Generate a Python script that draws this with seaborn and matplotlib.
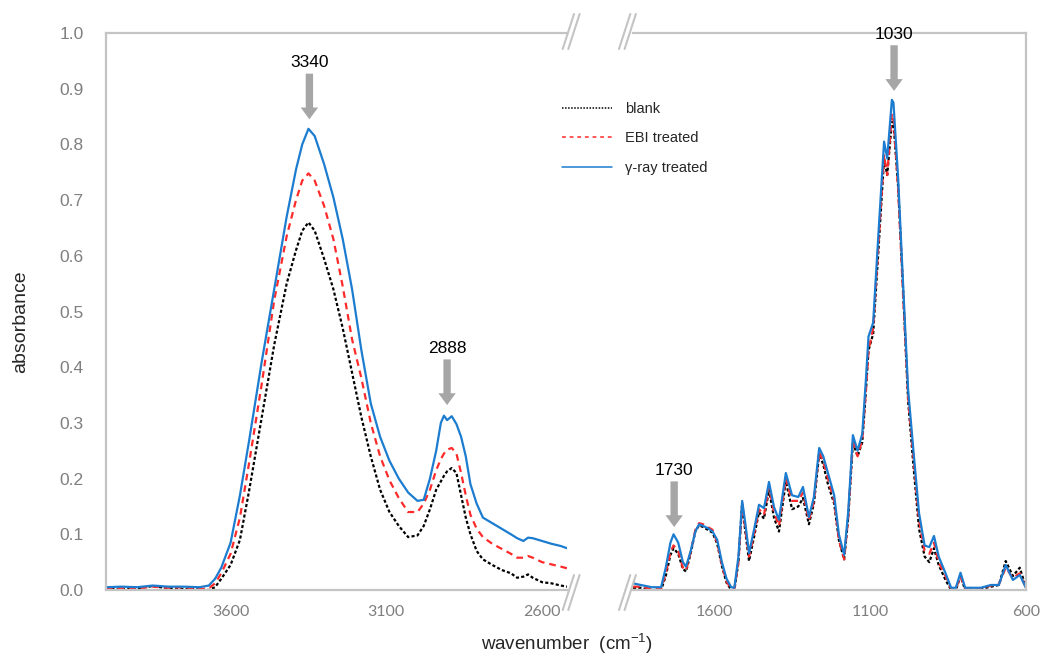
import matplotlib
matplotlib.use("Agg")
import matplotlib.pyplot as plt
import numpy as np
import pandas as pd
import seaborn as sns
from matplotlib.lines import Line2D

# --- data (wavenumber in cm-1, absorbance) ---
wn_high = [4000, 3950, 3900, 3850, 3800, 3750, 3700, 3670, 3650, 3630, 3600, 3570,
           3540, 3500, 3460, 3420, 3390, 3370, 3350, 3330, 3300, 3270, 3240, 3210,
           3180, 3150, 3120, 3090, 3060, 3030, 3000, 2980, 2960, 2940, 2925, 2915,
           2905, 2890, 2875, 2860, 2845, 2830, 2810, 2790, 2760, 2730, 2700, 2680,
           2660, 2645, 2630, 2600, 2570, 2540, 2520]
blank_high = [0.002, 0.001, 0.003, 0.007, 0.003, 0.002, 0.001, 0.000, 0.005, 0.020, 0.045, 0.090,
              0.180, 0.310, 0.440, 0.550, 0.610, 0.645, 0.660, 0.645, 0.595, 0.540, 0.470, 0.390,
              0.310, 0.240, 0.180, 0.140, 0.115, 0.095, 0.098, 0.115, 0.145, 0.180, 0.195, 0.205,
              0.213, 0.219, 0.210, 0.170, 0.130, 0.100, 0.070, 0.055, 0.045, 0.036, 0.030, 0.022,
              0.024, 0.028, 0.022, 0.014, 0.012, 0.008, 0.006]
ebi_high = [0.003, 0.004, 0.003, 0.006, 0.004, 0.005, 0.002, 0.003, 0.012, 0.030, 0.065, 0.130,
            0.230, 0.370, 0.520, 0.635, 0.700, 0.735, 0.748, 0.735, 0.690, 0.630, 0.545, 0.450,
            0.380, 0.300, 0.240, 0.197, 0.165, 0.140, 0.140, 0.155, 0.180, 0.215, 0.235, 0.245,
            0.252, 0.255, 0.245, 0.210, 0.170, 0.135, 0.110, 0.095, 0.083, 0.074, 0.065, 0.058,
            0.058, 0.061, 0.058, 0.050, 0.046, 0.042, 0.039]
gamma_high = [0.005, 0.006, 0.005, 0.008, 0.006, 0.006, 0.005, 0.008, 0.020, 0.040, 0.085, 0.170,
              0.270, 0.410, 0.540, 0.670, 0.755, 0.800, 0.828, 0.815, 0.765, 0.705, 0.630, 0.540,
              0.430, 0.335, 0.275, 0.232, 0.200, 0.175, 0.160, 0.162, 0.200, 0.250, 0.300, 0.313,
              0.305, 0.312, 0.298, 0.275, 0.240, 0.190, 0.155, 0.130, 0.120, 0.110, 0.100, 0.093,
              0.088, 0.094, 0.093, 0.088, 0.083, 0.079, 0.075]

wn_low = [1860, 1835, 1800, 1770, 1755, 1740, 1730, 1715, 1700, 1690, 1675, 1660, 1648, 1635,
          1620, 1605, 1590, 1575, 1560, 1545, 1535, 1522, 1510, 1500, 1488, 1472, 1456, 1440,
          1424, 1408, 1392, 1370, 1350, 1330, 1315, 1296, 1280, 1263, 1250, 1235, 1215, 1200,
          1183, 1170, 1155, 1140, 1125, 1113, 1105, 1090, 1072, 1055, 1045, 1030, 1025, 1010,
          995, 978, 962, 943, 925, 910, 895, 880, 858, 840, 825, 810, 795, 745, 712, 687,
          665, 642, 620, 600]
blank_low = [0.004, 0.004, 0.000, 0.000, 0.025, 0.063, 0.075, 0.065, 0.038, 0.033, 0.066, 0.106, 0.116, 0.113,
             0.108, 0.103, 0.083, 0.043, 0.013, 0.000, 0.000, 0.050, 0.155, 0.105, 0.052, 0.095, 0.140, 0.128,
             0.180, 0.130, 0.105, 0.195, 0.145, 0.150, 0.165, 0.118, 0.155, 0.245, 0.225, 0.190, 0.155, 0.090,
             0.055, 0.130, 0.265, 0.240, 0.265, 0.360, 0.430, 0.460, 0.620, 0.775, 0.745, 0.840, 0.840, 0.725,
             0.550, 0.340, 0.230, 0.110, 0.060, 0.050, 0.075, 0.045, 0.018, 0.000, 0.000, 0.025, 0.000, 0.002, 0.006, 0.009,
             0.052, 0.025, 0.040, 0.004]
ebi_low = [0.006, 0.006, 0.002, 0.002, 0.030, 0.068, 0.080, 0.070, 0.040, 0.035, 0.068, 0.108, 0.120, 0.118,
           0.113, 0.108, 0.085, 0.045, 0.015, 0.002, 0.002, 0.050, 0.155, 0.110, 0.060, 0.100, 0.145, 0.135,
           0.185, 0.140, 0.115, 0.200, 0.160, 0.160, 0.175, 0.125, 0.160, 0.248, 0.230, 0.200, 0.160, 0.090,
           0.055, 0.130, 0.270, 0.240, 0.270, 0.360, 0.430, 0.470, 0.630, 0.780, 0.745, 0.855, 0.850, 0.720,
           0.540, 0.345, 0.245, 0.125, 0.070, 0.065, 0.085, 0.050, 0.025, 0.002, 0.002, 0.025, 0.002, 0.003, 0.008, 0.010,
           0.040, 0.022, 0.030, 0.003]
gamma_low = [0.012, 0.009, 0.005, 0.005, 0.040, 0.085, 0.100, 0.085, 0.050, 0.042, 0.070, 0.105, 0.118, 0.115,
             0.111, 0.105, 0.090, 0.050, 0.020, 0.005, 0.004, 0.060, 0.160, 0.120, 0.066, 0.108, 0.153, 0.147,
             0.194, 0.149, 0.126, 0.210, 0.170, 0.167, 0.185, 0.131, 0.167, 0.255, 0.240, 0.210, 0.170, 0.100,
             0.063, 0.140, 0.278, 0.250, 0.280, 0.380, 0.455, 0.480, 0.650, 0.805, 0.775, 0.880, 0.875, 0.740,
             0.560, 0.360, 0.257, 0.138, 0.080, 0.077, 0.097, 0.060, 0.030, 0.004, 0.004, 0.031, 0.004, 0.004, 0.009, 0.009,
             0.045, 0.018, 0.027, 0.004]

samples = ["blank", "EBI treated", "γ-ray treated"]
peaks_high = [("3340", 3347, 0.845), ("2888", 2905, 0.332)]
peaks_low = [("1730", 1728, 0.113), ("1030", 1023, 0.896)]

palette = {"blank": "#000000", "EBI treated": "#FF2A2A", "γ-ray treated": "#1C7CD0"}
dashes = {"blank": (1.4, 1.0), "EBI treated": (3.0, 2.2), "γ-ray treated": ""}
GRID = "#C4C4C4"
TICK = "#7F7F7F"


def long_frame(wn, series):
    parts = [pd.DataFrame({"wn": wn, "absorbance": vals, "sample": name})
             for name, vals in zip(samples, series)]
    return pd.concat(parts, ignore_index=True)


df_high = long_frame(wn_high, [blank_high, ebi_high, gamma_high])
df_low = long_frame(wn_low, [blank_low, ebi_low, gamma_low])

sns.set_theme(style="white")
plt.rcParams["font.family"] = ["Liberation Sans", "DejaVu Sans"]
plt.rcParams["mathtext.fontset"] = "custom"
plt.rcParams["mathtext.rm"] = "Liberation Sans"

W, H = 1041, 659
fig = plt.figure(figsize=(W / 100, H / 100), dpi=100)
ax1 = fig.add_axes([106 / W, 69 / H, 461 / W, 557 / H])
ax2 = fig.add_axes([633 / W, 69 / H, 393 / W, 557 / H])

for ax, df, lim, ticks in [(ax1, df_high, (4000, 2520), [3600, 3100, 2600]),
                           (ax2, df_low, (1860, 600), [1600, 1100, 600])]:
    sns.lineplot(data=df, x="wn", y="absorbance", hue="sample", style="sample",
                 palette=palette, dashes=dashes, lw=1.6, estimator=None, sort=False,
                 legend=False, ax=ax)
    ax.set_xlim(*lim)
    ax.set_ylim(0, 1.0)
    ax.set_xticks(ticks)
    ax.set_xlabel("")
    ax.set_ylabel("")
    for s in ax.spines.values():
        s.set_color(GRID)
        s.set_linewidth(1.6)
    ax.tick_params(axis="x", direction="in", length=4, width=1.2, color=GRID,
                   labelcolor=TICK, labelsize=11.5, pad=11)
    for lab in ax.get_xticklabels():
        lab.set_family("Lato")

ax1.spines["right"].set_visible(False)
ax2.spines["left"].set_visible(False)
ax1.set_yticks(np.arange(0, 1.01, 0.1))
ax1.set_yticklabels([f"{v:.1f}" for v in np.arange(0, 1.01, 0.1)])
ax1.tick_params(axis="y", direction="in", length=4, width=1.2, color=GRID,
                labelcolor=TICK, labelsize=12.5, pad=16)
ax2.set_yticks([])

# grey arrows marking the peaks
for ax, peaks in [(ax1, peaks_high), (ax2, peaks_low)]:
    for label, x, tip in peaks:
        ax.annotate("", xy=(x, tip), xytext=(x, tip + 0.082),
                    arrowprops=dict(facecolor="#A6A6A6", edgecolor="none", width=5.3,
                                    headwidth=12.5, headlength=8.5, shrink=0),
                    annotation_clip=False)
        ax.text(x, tip + 0.088, label, ha="center", va="bottom", fontsize=12.5,
                color="black", clip_on=False, zorder=5)


# axis-break marks (pixel offsets from the panel corners)
def brk(px, py):
    for off in (0, 5.6):
        xs = [(px - 4.3 + off) / W, (px + 7 + off) / W]
        ys = [1 - (py + 20) / H, 1 - (py - 15) / H]
        fig.add_artist(Line2D(xs, ys, color=GRID, lw=1.5))


for px in (567, 623.3):
    for py in (29, 590):
        brk(px, py)

handles = [Line2D([], [], color=palette[s], lw=1.1) for s in samples]
handles[0].set_dashes((1, 1))
handles[1].set_dashes((2.5, 2.5))
fig.legend(handles, samples, loc="upper left", bbox_to_anchor=(549 / W, 1 - 89 / H),
           frameon=False, fontsize=10.5, handlelength=3.4, handletextpad=0.9,
           labelspacing=1.05)

fig.text(567 / W, 1 - 644 / H, "wavenumber  (cm$^{\\mathrm{-1}}$)", ha="center",
         va="center", fontsize=13.5)
fig.text(21 / W, 1 - 322 / H, "absorbance", rotation=90, ha="center", va="center",
         fontsize=14)

fig.savefig("out.png", dpi=100)
